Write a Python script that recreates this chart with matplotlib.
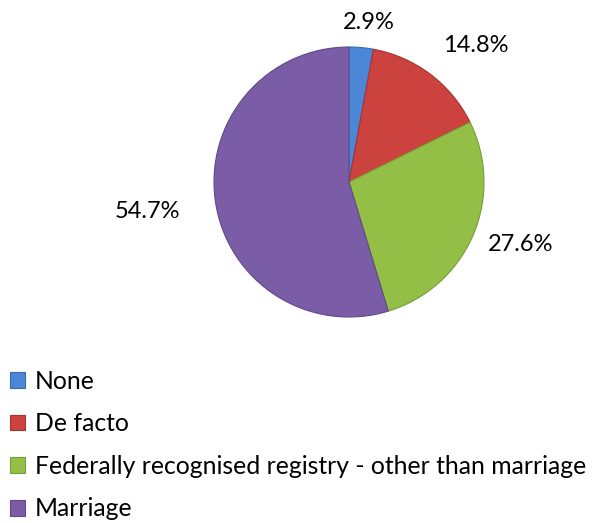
import numpy as np
import matplotlib.pyplot as plt
from matplotlib.patches import Patch

# данные с картинки
categories = ['None', 'De facto',
              'Federally recognised registry - other than marriage',
              'Marriage']
shares = [2.9, 14.8, 27.6, 54.7]
colors = ['#4B87D6', '#CB423F', '#94BF47', '#7B5CA6']
edge_colors = ['#3A6BB0', '#A53532', '#789C38', '#614888']
# подписи: расстояние от центра и сдвиг угла (градусы)
label_dist = [1.19, 1.38, 1.35, 1.51]
label_shift = [-2, -6, 3.4, 0]

plt.rcParams['font.family'] = ['Lato', 'DejaVu Sans']

fig = plt.figure(figsize=(5.93, 5.23), dpi=100)
W, H = 593, 523
cx, cy, r = 349, 182, 135
ax = fig.add_axes([(cx - r) / W, (H - cy - r) / H, 2 * r / W, 2 * r / H])

wedges, texts = ax.pie(shares, colors=colors, startangle=90,
                       counterclock=False, radius=1,
                       labels=[f'{v:.1f}%' for v in shares],
                       labeldistance=1.2,
                       textprops={'fontsize': 17, 'color': 'black'},
                       wedgeprops={'linewidth': 0.8})
for w, ec in zip(wedges, edge_colors):
    w.set_edgecolor(ec)

for w, t, d, s in zip(wedges, texts, label_dist, label_shift):
    ang = np.deg2rad((w.theta1 + w.theta2) / 2 + s)
    t.set_position((d * np.cos(ang), d * np.sin(ang)))
    t.set_ha('center')
    t.set_va('center')

ax.set_xlim(-1, 1)
ax.set_ylim(-1, 1)
ax.set_aspect('equal')
ax.axis('off')

handles = [Patch(facecolor=c, edgecolor=ec, linewidth=0.8)
           for c, ec in zip(colors, edge_colors)]
fig.legend(handles, categories, loc='upper left',
           bbox_to_anchor=(-5 / W, (H - 355) / H), frameon=False,
           fontsize=17.8, labelspacing=0.79, handlelength=0.62,
           handleheight=0.6, handletextpad=0.38, borderaxespad=0.2)

fig.savefig('out.png', dpi=100)
